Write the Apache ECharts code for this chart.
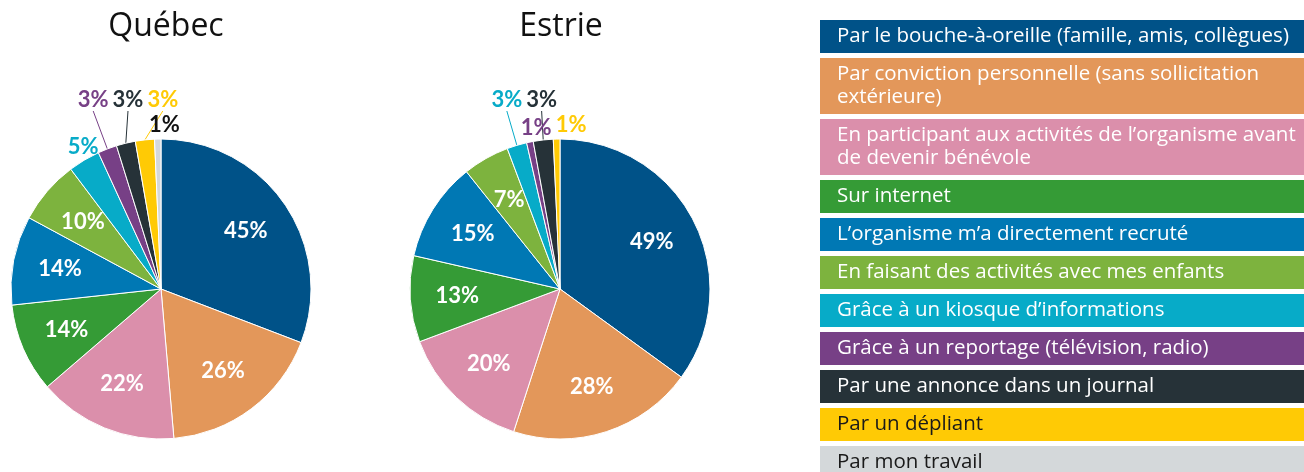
<!DOCTYPE html>
<html>
<head>
<meta charset="utf-8">
<script src="https://cdn.jsdelivr.net/npm/echarts@6/dist/echarts.min.js"></script>
<style>
  html, body { margin: 0; padding: 0; background: #fff; }
  #chart { width: 1304px; height: 472px; }
</style>
</head>
<body>
<div id="chart"></div>
<script>
  // categories (legend order = slice order, clockwise from 12 o'clock)
  var categories = [
    'Par le bouche-à-oreille (famille, amis, collègues)',
    'Par conviction personnelle (sans sollicitation extérieure)',
    'En participant aux activités de l’organisme avant de devenir bénévole',
    'Sur internet',
    'L’organisme m’a directement recruté',
    'En faisant des activités avec mes enfants',
    'Grâce à un kiosque d’informations',
    'Grâce à un reportage (télévision, radio)',
    'Par une annonce dans un journal',
    'Par un dépliant',
    'Par mon travail'
  ];
  // same labels, with the line breaks used in the legend boxes
  var legendText = [
    'Par le bouche-à-oreille (famille, amis, collègues)',
    'Par conviction personnelle (sans sollicitation\nextérieure)',
    'En participant aux activités de l’organisme avant\nde devenir bénévole',
    'Sur internet',
    'L’organisme m’a directement recruté',
    'En faisant des activités avec mes enfants',
    'Grâce à un kiosque d’informations',
    'Grâce à un reportage (télévision, radio)',
    'Par une annonce dans un journal',
    'Par un dépliant',
    'Par mon travail'
  ];
  var quebecValues = [45, 26, 22, 14, 14, 10, 5, 3, 3, 3, 1];
  var estrieValues = [49, 28, 20, 13, 15, 7, 3, 1, 3, 1, 0];

  var colors = ['#005288', '#e3975a', '#db8fab', '#359b36', '#0078b4', '#7db33e',
                '#07abc8', '#774086', '#263238', '#ffca05', '#d4d8da'];
  var legendTextColors = ['#fff', '#fff', '#fff', '#fff', '#fff', '#fff',
                          '#fff', '#fff', '#fff', '#1a1a1a', '#1a1a1a'];

  var FONT = 'Lato, "Open Sans", sans-serif';
  var R = 150;
  var chart = echarts.init(document.getElementById('chart'));

  // main slices; the small ones get their label outside.
  // 3% ones get a leader line that ends at a common height above the pie,
  // the others sit right at the edge
  function sliceData(values) {
    var total = 0, cum = 0, out = [];
    for (var k = 0; k < values.length; k++) total += values[k];
    for (var i = 0; i < values.length; i++) {
      var v = values[i];
      var mid = (cum + v / 2) / total * Math.PI * 2;
      cum += v;
      if (!v) continue;
      var small = v < 6;
      var longLine = v > 1 && v < 5;
      var len = longLine ? (R + 27) / Math.cos(mid) - R : 2;
      out.push({
        name: categories[i],
        value: v,
        longLine: longLine,
        itemStyle: { color: colors[i] },
        label: { show: small, color: i === 10 ? '#111' : colors[i] },
        labelLine: {
          show: small,
          length: len,
          lineStyle: { color: colors[i], width: 1, opacity: longLine ? 1 : 0 }
        }
      });
    }
    return out;
  }
  // transparent overlay only carrying the big inside labels
  function innerLabelData(values) {
    var out = [];
    for (var i = 0; i < values.length; i++) {
      if (!values[i]) continue;
      out.push({
        name: categories[i],
        value: values[i],
        label: { show: values[i] >= 6 }
      });
    }
    return out;
  }

  function mainPie(center, values) {
    var data = sliceData(values);
    var placed = [];
    var lastIdx = -1;
    return {
      type: 'pie',
      center: center,
      radius: [0, R],
      startAngle: 90,
      clockwise: true,
      animation: false,
      silent: true,
      avoidLabelOverlap: false,
      data: data,
      itemStyle: { borderColor: '#fff', borderWidth: 1 },
      label: {
        position: 'outside',
        formatter: '{c}%',
        fontFamily: FONT,
        fontSize: 22,
        lineHeight: 20,
        fontWeight: 'bold'
      },
      labelLine: { length2: 0, smooth: false },
      // centre each outside label just above the end of its leader line,
      // nudging it right of earlier labels / leader lines it would overlap
      labelLayout: function (p) {
        var pts = p.labelLinePoints;
        var d = data[p.dataIndex];
        if (!pts || !d || d.value >= 6) return {};
        if (p.dataIndex <= lastIdx) placed = [];
        lastIdx = p.dataIndex;
        var end = pts[pts.length - 1];
        var w = p.labelRect.width, h = p.labelRect.height;
        var x0 = end[0] - w / 2, y1 = end[1] - 2, y0 = y1 - h;
        for (var j = 0; j < placed.length; j++) {
          var b = placed[j];
          if (y0 < b.y1 && y1 > b.y0 && x0 < b.x1 + 4 && x0 + w > b.x0) x0 = b.x1 + 4;
        }
        placed.push({ x0: x0, x1: x0 + w, y0: y0, y1: y1 });
        if (d.longLine) {
          var xs = pts.map(function (q) { return q[0]; });
          var ys = pts.map(function (q) { return q[1]; });
          placed.push({ x0: Math.min.apply(null, xs), x1: Math.max.apply(null, xs),
                        y0: Math.min.apply(null, ys), y1: Math.max.apply(null, ys) });
        }
        return { x: x0, y: y1, align: 'left', verticalAlign: 'bottom' };
      }
    };
  }
  function labelPie(center, values) {
    return {
      type: 'pie',
      center: center,
      radius: [50, R],
      startAngle: 90,
      clockwise: true,
      animation: false,
      silent: true,
      data: innerLabelData(values),
      itemStyle: { color: 'rgba(0,0,0,0)', borderWidth: 0 },
      label: {
        position: 'inside',
        formatter: '{c}%',
        color: '#fff',
        fontFamily: FONT,
        fontSize: 22,
        fontWeight: 'bold'
      },
      labelLine: { show: false }
    };
  }

  var legendData = [];
  for (var i = 0; i < categories.length; i++) {
    legendData.push({
      name: categories[i],
      textStyle: { backgroundColor: colors[i], color: legendTextColors[i] }
    });
  }

  var titleStyle = { fontFamily: '"Open Sans", sans-serif', fontSize: 32, fontWeight: 'normal', color: '#111' };
  chart.setOption({
    title: [
      { text: 'Québec', left: 161, top: 6, textAlign: 'center', textStyle: titleStyle },
      { text: 'Estrie', left: 556, top: 6, textAlign: 'center', textStyle: titleStyle }
    ],
    legend: {
      orient: 'vertical',
      left: 814,
      top: 20,
      height: 600,
      padding: 0,
      itemGap: 5,
      itemWidth: 0,
      itemHeight: 0,
      icon: 'rect',
      selectedMode: false,
      data: legendData,
      formatter: function (name) {
        return legendText[categories.indexOf(name)];
      },
      textStyle: {
        fontFamily: '"Open Sans", sans-serif',
        fontSize: 20.5,
        lineHeight: 23,
        width: 470,
        padding: [5, 10, 5, 17],
        overflow: 'none'
      }
    },
    series: [
      mainPie([161, 289], quebecValues),
      labelPie([161, 289], quebecValues),
      mainPie([560, 289], estrieValues),
      labelPie([560, 289], estrieValues)
    ]
  });
</script>
</body>
</html>
